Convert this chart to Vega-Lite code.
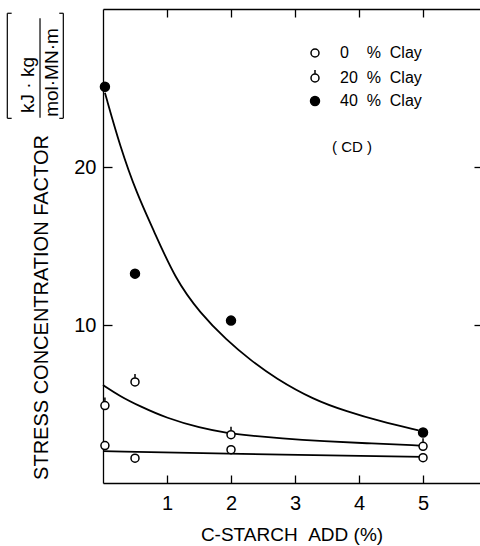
{
  "$schema": "https://vega.github.io/schema/vega-lite/v6.json",
  "width": 377,
  "height": 474,
  "autosize": {"type": "none"},
  "padding": {"left": 103, "top": 9, "right": 0, "bottom": 63},
  "background": "white",
  "config": {
    "font": "Liberation Sans",
    "view": {"stroke": null},
    "axis": {"grid": false, "domainColor": "black", "tickColor": "black", "labelColor": "black", "titleColor": "black", "domainWidth": 1.3, "tickWidth": 1.3, "titleFontWeight": "normal"},
    "legend": {"orient": "none", "legendX": 203, "legendY": 35}
  },
  "datasets": {
    "pts": [
      {"s": "0", "x": 0.03, "y": 2.37}, {"s": "0", "x": 0.5, "y": 1.57}, {"s": "0", "x": 2, "y": 2.11}, {"s": "0", "x": 5, "y": 1.6},
      {"s": "20", "x": 0.03, "y": 4.9}, {"s": "20", "x": 0.5, "y": 6.4}, {"s": "20", "x": 2, "y": 3.06}, {"s": "20", "x": 5, "y": 2.32},
      {"s": "40", "x": 0.03, "y": 25.08}, {"s": "40", "x": 0.5, "y": 13.25}, {"s": "40", "x": 2, "y": 10.28}, {"s": "40", "x": 5, "y": 3.2}
    ],
    "curves": [
      {"s": "0", "x": 0, "y": 2.02}, {"s": "0", "x": 2, "y": 1.84}, {"s": "0", "x": 5, "y": 1.65},
      {"s": "20", "x": 0, "y": 6.2}, {"s": "20", "x": 0.27, "y": 5.48}, {"s": "20", "x": 0.58, "y": 4.85}, {"s": "20", "x": 0.99, "y": 4.11}, {"s": "20", "x": 1.52, "y": 3.48}, {"s": "20", "x": 1.93, "y": 3.17}, {"s": "20", "x": 2.3, "y": 3.0}, {"s": "20", "x": 2.77, "y": 2.82}, {"s": "20", "x": 3.44, "y": 2.64}, {"s": "20", "x": 4.2, "y": 2.5}, {"s": "20", "x": 4.95, "y": 2.37},
      {"s": "40", "x": 0.03, "y": 24.7}, {"s": "40", "x": 0.27, "y": 21.25}, {"s": "40", "x": 0.53, "y": 18.3}, {"s": "40", "x": 0.79, "y": 16.0}, {"s": "40", "x": 1.13, "y": 12.9}, {"s": "40", "x": 1.52, "y": 10.74}, {"s": "40", "x": 1.93, "y": 9.05}, {"s": "40", "x": 2.3, "y": 7.79}, {"s": "40", "x": 2.69, "y": 6.64}, {"s": "40", "x": 3.29, "y": 5.27}, {"s": "40", "x": 3.81, "y": 4.53}, {"s": "40", "x": 4.33, "y": 3.9}, {"s": "40", "x": 4.93, "y": 3.33}
    ],
    "units": [
      {"t": "kJ · kg", "x": -1.167, "y": 25.19},
      {"t": "mol·MN·m", "x": -0.792, "y": 25.98}
    ],
    "brackets": [
      {"x": -1.495, "x2": -1.495, "y": 23.08, "y2": 29.73},
      {"x": -1.495, "x2": -1.427, "y": 29.73, "y2": 29.73},
      {"x": -1.495, "x2": -1.427, "y": 23.08, "y2": 23.08},
      {"x": -0.62, "x2": -0.62, "y": 23.08, "y2": 29.73},
      {"x": -0.62, "x2": -0.683, "y": 29.73, "y2": 29.73},
      {"x": -0.62, "x2": -0.683, "y": 23.08, "y2": 23.08},
      {"x": -0.984, "x2": -0.984, "y": 23.11, "y2": 29.41}
    ],
    "notes": [{"t": "( CD )", "x": 3.89, "y": 21.27}]
  },
  "resolve": {"axis": {"x": "independent", "y": "independent"}},
  "layer": [
    {
      "data": {"name": "curves"},
      "mark": {"type": "line", "color": "black", "strokeWidth": 1.8, "interpolate": "basis"},
      "encoding": {
        "x": {"field": "x", "type": "quantitative", "scale": {"domain": [0, 5.89], "nice": false}, "axis": null},
        "y": {"field": "y", "type": "quantitative", "scale": {"domain": [0, 30], "nice": false}, "axis": null},
        "detail": {"field": "s"}
      }
    },
    {
      "data": {"name": "pts"},
      "mark": {"type": "point", "filled": true, "stroke": "black", "strokeWidth": 1.5, "opacity": 1, "size": 256},
      "encoding": {
        "x": {"field": "x", "type": "quantitative", "scale": {"domain": [0, 5.89], "nice": false},
          "axis": {"orient": "bottom", "values": [1, 2, 3, 4, 5], "tickSize": -8, "labelFontSize": 20, "labelPadding": 18, "title": "C-STARCH\u00a0\u00a0ADD (%)", "titleFontSize": 19, "titlePadding": 12}},
        "y": {"field": "y", "type": "quantitative", "scale": {"domain": [0, 30], "nice": false},
          "axis": {"orient": "left", "values": [10, 20], "tickSize": -9, "labelFontSize": 20, "labelPadding": 16, "title": "STRESS CONCENTRATION FACTOR", "titleFontSize": 20, "titleAngle": 270, "titleX": -62, "titleY": 298, "titleAlign": "center", "titleBaseline": "middle"}},
        "shape": {"field": "s", "type": "nominal", "scale": {"domain": ["0", "20", "40"], "range": ["M-0.5,0A0.5,0.5,0,1,1,0.5,0A0.5,0.5,0,1,1,-0.5,0Z", "M-0.5,0A0.5,0.5,0,1,1,0.5,0A0.5,0.5,0,1,1,-0.5,0ZM0,-0.5L0,-1", "M-0.56,0A0.56,0.56,0,1,1,0.56,0A0.56,0.56,0,1,1,-0.56,0Z"]},
          "legend": {"title": null, "labelFontSize": 16, "rowPadding": 6, "labelOffset": 16, "symbolSize": 256, "labelExpr": "datum.value == '0' ? '0\u00a0\u00a0\u00a0\u00a0%\u00a0\u00a0Clay' : datum.value + '\u00a0\u00a0%\u00a0\u00a0Clay'",
            "encode": {"symbols": {"update": {"stroke": {"value": "black"}, "strokeWidth": {"value": 1.5}, "opacity": {"value": 1}}}}}},
        "fill": {"field": "s", "type": "nominal", "scale": {"domain": ["0", "20", "40"], "range": ["white", "white", "black"]},
          "legend": {"title": null, "labelFontSize": 16, "rowPadding": 6, "labelOffset": 16, "symbolSize": 256, "labelExpr": "datum.value == '0' ? '0\u00a0\u00a0\u00a0\u00a0%\u00a0\u00a0Clay' : datum.value + '\u00a0\u00a0%\u00a0\u00a0Clay'",
            "encode": {"symbols": {"update": {"stroke": {"value": "black"}, "strokeWidth": {"value": 1.5}, "opacity": {"value": 1}}}}}}
      }
    },
    {
      "data": {"name": "notes"},
      "mark": {"type": "text", "fontSize": 15, "color": "black"},
      "encoding": {
        "x": {"field": "x", "type": "quantitative", "scale": {"domain": [0, 5.89], "nice": false},
          "axis": {"orient": "top", "values": [1, 2, 3, 4, 5], "tickSize": -8, "labels": false, "title": null}},
        "y": {"field": "y", "type": "quantitative", "scale": {"domain": [0, 30], "nice": false},
          "axis": {"orient": "right", "values": [10, 20], "tickSize": -6, "labels": false, "domain": false, "title": null}},
        "text": {"field": "t"}
      }
    },
    {
      "data": {"name": "units"},
      "mark": {"type": "text", "fontSize": 19, "angle": 270, "align": "center", "baseline": "middle", "color": "black"},
      "encoding": {
        "x": {"field": "x", "type": "quantitative", "scale": {"domain": [0, 5.89], "nice": false}, "axis": null},
        "y": {"field": "y", "type": "quantitative", "scale": {"domain": [0, 30], "nice": false}, "axis": null},
        "text": {"field": "t"}
      }
    },
    {
      "data": {"name": "brackets"},
      "mark": {"type": "rule", "color": "black", "strokeWidth": 1.2},
      "encoding": {
        "x": {"field": "x", "type": "quantitative", "scale": {"domain": [0, 5.89], "nice": false}, "axis": null},
        "x2": {"field": "x2"},
        "y": {"field": "y", "type": "quantitative", "scale": {"domain": [0, 30], "nice": false}, "axis": null},
        "y2": {"field": "y2"}
      }
    }
  ]
}
